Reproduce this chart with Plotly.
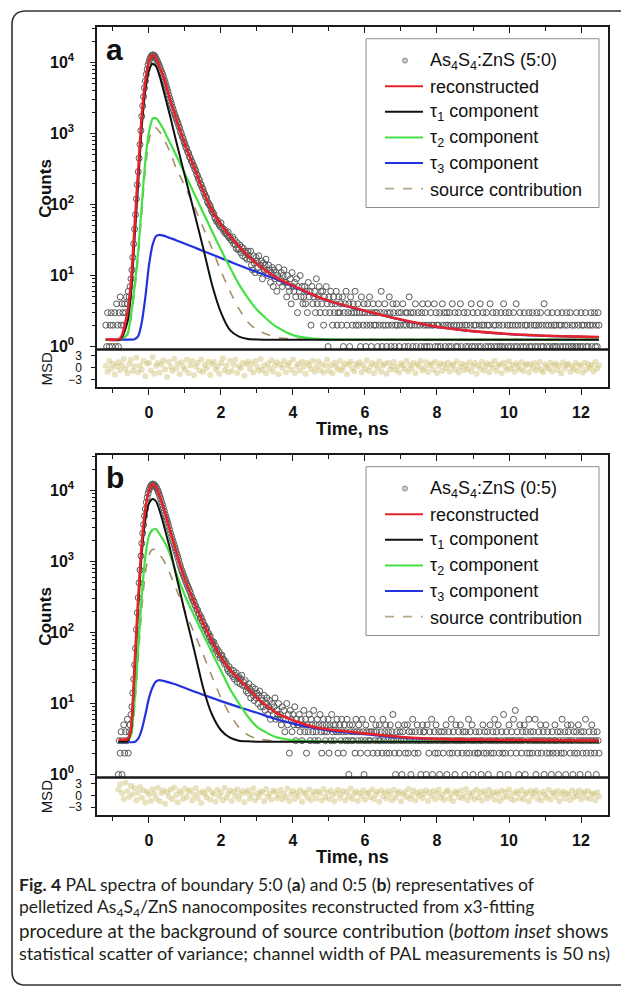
import numpy as np
import plotly.graph_objects as go

W, H = 621, 996
FONT = "Liberation Sans, Arial, sans-serif"

channel_ns = 0.025   # spacing of the count channels
msd_step_ns = 0.05   # spacing of the plotted variance points

# ---- panel a : As4S4:ZnS (5:0) ----
start_a = -1.2
counts_a = [
    2, 1, 3, 0, 1, 2, 3, 1, 2, 0, 3, 1, 4, 2, 1, 3, 5, 2, 4, 3,
    2, 4, 3, 5, 4, 6, 5, 7, 9, 12, 18, 28, 45, 72, 120, 190, 290, 450, 700, 1100,
    1750, 2450, 3300, 4400, 5500, 6800, 8000, 9300, 10400, 11300,
    12000, 12500, 12800, 12750, 12500, 12000, 11300, 10700, 10000, 9300,
    8600, 8000, 7400, 6850, 6300, 5750, 5250, 4750, 4300, 3900,
    3500, 3150, 2850, 2600, 2350, 2150, 1950, 1800, 1650, 1530,
    1420, 1290, 1195, 1070, 1000, 900, 850, 760, 710, 640,
    610, 550, 530, 470, 455, 410, 395, 360, 345, 315,
    300, 268, 255, 230, 222, 196, 190, 172, 165, 148, 140, 128, 125, 110, 104, 99, 96, 86, 80, 77,
    74, 66, 63, 58, 60, 55, 52, 49, 55, 47, 46, 42, 44, 39, 40, 37, 41, 34, 35, 32,
    31, 35, 28, 32, 27, 24, 29, 23, 24, 27, 21, 25, 19, 24, 22, 18, 21, 17, 22, 19,
    17, 22, 14, 12, 19, 15, 11, 18, 16, 13, 19, 11, 14, 16, 9, 15, 12, 14, 17, 11,
    10, 14, 12, 8, 11, 13, 7, 12, 9, 11, 6, 10, 13, 8, 9, 11, 7, 10, 12, 8,
    8, 5, 10, 7, 6, 9, 4, 11, 7, 6, 8, 5, 9, 3, 7, 6, 10, 5, 7, 4,
    5, 7, 4, 6, 3, 8, 5, 6, 2, 7, 4, 5, 6, 3, 9, 4, 5, 7, 3, 6,
    4, 6, 2, 5, 3, 7, 4, 1, 5, 3, 6, 4, 2, 5, 3, 4, 6, 2, 3, 5,
    3, 4, 2, 5, 1, 3, 4, 6, 2, 3, 4, 1, 5, 3, 2, 4, 3, 6, 2, 3,
    4, 2, 3, 1, 5, 3, 2, 4, 3, 1, 2, 4, 3, 5, 2, 1, 3, 4, 2, 3,
    2, 3, 1, 4, 2, 3, 6, 1, 2, 3, 4, 2, 1, 3, 2, 5, 3, 1, 2, 4,
    3, 1, 2, 4, 2, 3, 1, 2, 3, 0, 4, 2, 1, 3, 2, 3, 1, 5, 2, 3,
    2, 1, 3, 2, 4, 1, 2, 3, 0, 2, 1, 3, 4, 2, 1, 3, 2, 1, 4, 2,
    1, 3, 2, 0, 2, 4, 1, 3, 2, 1, 2, 3, 1, 0, 4, 2, 3, 1, 2, 3,
    2, 1, 3, 2, 1, 4, 0, 2, 3, 1, 2, 1, 3, 2, 4, 1, 2, 0, 3, 2,
    1, 2, 3, 1, 0, 2, 4, 1, 3, 2, 1, 2, 0, 3, 1, 2, 4, 1, 2, 3,
    2, 0, 1, 3, 2, 1, 2, 4, 1, 0, 3, 2, 1, 2, 3, 1, 0, 2, 1, 3,
    1, 2, 4, 1, 3, 0, 2, 1, 3, 2, 1, 0, 2, 3, 1, 2, 4, 1, 2, 0,
    3, 1, 2, 0, 1, 3, 2, 1, 2, 0, 3, 1, 2, 1, 3, 0, 2, 1, 2, 3,
    1, 2, 0, 3, 1, 2, 1, 4, 0, 2, 1, 3, 2, 1, 0, 2, 3, 1, 2, 1,
    2, 1, 3, 0, 2, 1, 2, 3, 1, 0, 2, 1, 3, 2, 1, 0, 3, 1, 2, 1,
    0, 2, 1, 3, 1, 2, 0, 1, 3, 2, 1, 2, 0, 3, 1, 2, 1, 0, 2, 3,
    1, 2, 0, 3, 1, 2, 1, 3, 2,
]
msd_a = [
    0.4, -1.1, 1.6, -0.3, 0.9, -1.8, 0.2, 1.3, -0.7, 0.6,
    2.1, -0.4, -1.5, 0.8, 1.9, -0.9, 0.3, 2.4, -1.2, 0.5,
    -0.6, 1.7, -2.2, 0.9, 1.2, -0.8, 2.6, -1.6, 0.4, 1.1,
    -1.3, 0.7, 1.8, -0.5, -2.4, 1.4, 0.2, -0.9, 2.2, -0.3,
    0.9, -1.7, 1.3, 0.1, -0.6, 1.9, -1.4, 0.5, 1.6, -2.0,
    0.3, 1.2, -0.8, 2.0, -1.1, 0.6, -0.2, 1.5, -1.9, 0.8,
    1.4, -0.5, 0.2, -1.6, 1.1, 2.3, -0.7, 0.4, -1.2, 1.7,
    -0.9, 0.6, 1.9, -1.4, 0.3, -0.2, 1.2, -2.1, 0.8, 1.5,
    -0.4, 0.9, -1.3, 1.6, 0.2, -0.8, 2.1, -0.6, 0.5, -1.5,
    1.0, -0.3, 1.8, -1.0, 0.4, 1.3, -1.7, 0.7, -0.1, 1.6,
    -1.2, 0.5, 1.1, -0.6, 2.0, -1.4, 0.3, 0.9, -0.8, 1.4,
    0.2, -1.6, 1.2, 0.6, -0.4, 1.7, -1.1, 0.1, 1.5, -0.7,
    0.8, -1.3, 0.4, 1.9, -0.9, 0.5, -1.5, 1.2, 0.3, -0.5,
    1.6, -0.8, 0.1, 1.0, -1.7, 0.7, 1.4, -0.3, -1.0, 0.9,
    0.3, 1.3, -1.2, 0.6, -0.4, 1.8, -0.9, 0.2, 1.1, -1.5,
    0.7, -0.2, 1.5, -1.1, 0.4, 0.9, -1.6, 1.2, -0.5, 0.3,
    1.4, -0.7, 0.2, -1.3, 1.0, 0.5, -0.4, 1.7, -1.0, 0.6,
    -0.3, 1.1, -1.5, 0.8, 0.2, 1.6, -0.8, -0.1, 1.3, -1.2,
    0.5, 0.9, -0.6, 1.4, -1.4, 0.3, 1.0, -0.9, 0.7, -0.2,
    1.2, -1.1, 0.4, 0.8, -0.5, 1.5, -1.3, 0.1, 0.9, -0.7,
    0.6, -0.4, 1.3, -1.0, 0.2, 1.1, -1.6, 0.5, -0.3, 1.4,
    -0.8, 0.3, 1.0, -1.2, 0.7, -0.1, 1.6, -0.9, 0.4, 0.8,
    -1.4, 1.2, 0.1, -0.6, 1.5, -0.3, 0.6, -1.1, 1.0, 0.2,
    -0.5, 1.3, -0.9, 0.4, 0.9, -1.3, 0.7, -0.2, 1.1, -0.8,
    0.3, 1.4, -0.6, -1.2, 0.8, 0.1, -0.4, 1.2, -1.0, 0.5,
    1.0, -0.7, 0.4, -1.5, 1.3, -0.2, 0.6, 0.9, -1.1, 0.2,
    -0.4, 1.1, -0.9, 0.7, 0.3, -1.3, 1.2, -0.5, 0.8, -0.1,
    0.6, -1.0, 1.4, -0.3, 0.5,
]
curve_t_a = [-1.2, -0.8, -0.6, -0.5, -0.4, -0.3, -0.2, -0.1, 0.0, 0.1, 0.2, 0.3, 0.4,
             0.5, 0.6, 0.75, 1.0, 1.25, 1.5, 1.75, 2.0, 2.25, 2.5, 2.75, 3.0, 3.5,
             4.0, 4.5, 5.0, 6.0, 7.0, 8.0, 9.0, 10.0, 11.0, 12.0, 12.5]
recon_a = [1.26, 1.3, 3.0, 8, 50, 300, 1800, 5500, 10500, 12800, 11300, 8600, 6300,
           4300, 2850, 1650, 700, 340, 160, 82, 52, 36, 26, 19, 14.5, 9.6,
           7.2, 5.5, 4.4, 3.2, 2.4, 1.9, 1.65, 1.5, 1.42, 1.38, 1.36]
tau1_a = [1.25, 1.25, 2.2, 5.5, 33, 200, 1250, 4100, 7800, 9600, 8800, 6300, 4100,
          2600, 1650, 800, 250, 80, 25, 7.5, 3.0, 1.7, 1.38, 1.28, 1.26, 1.25,
          1.25, 1.25, 1.25, 1.25, 1.25, 1.25, 1.25, 1.25, 1.25, 1.25, 1.25]
tau2_a = [1.25, 1.26, 1.5, 2.8, 7, 22, 100, 420, 1050, 1620, 1640, 1400, 1150,
          900, 720, 500, 270, 145, 78, 42, 23, 13, 7.5, 4.8, 3.3, 1.95,
          1.45, 1.3, 1.26, 1.25, 1.25, 1.25, 1.25, 1.25, 1.25, 1.25, 1.25]
tau3_a = [1.25, 1.25, 1.25, 1.25, 1.27, 1.4, 2.2, 5, 14, 27, 36, 37.5, 36.5,
          35, 33.5, 31.5, 28, 25, 22.2, 19.8, 17.6, 15.7, 14, 12.5, 11.2, 9.0,
          7.0, 5.4, 4.35, 3.17, 2.38, 1.89, 1.64, 1.49, 1.41, 1.37, 1.35]
source_a = [1.25, 1.26, 1.45, 2.5, 6, 18, 80, 330, 800, 1180, 1200, 1050, 860,
            680, 530, 330, 180, 95, 48, 24, 11.5, 6, 3.4, 2.2, 1.7, 1.36,
            1.28, 1.26, 1.25, 1.25, 1.25, 1.25, 1.25, 1.25, 1.25, 1.25, 1.25]

# ---- panel b : As4S4:ZnS (0:5) ----
start_b = -0.85
counts_b = [
    1, 3, 2, 4, 1, 3, 5, 2, 4, 3, 6, 2, 4, 5, 7, 9, 14, 22, 35, 60,
    110, 190, 310, 500, 760, 1200, 1800, 2500, 3300, 4400,
    5500, 6800, 8000, 9100, 10100, 10900, 11600, 12000, 12300, 12250,
    12000, 11600, 11100, 10500, 9800, 9100, 8300, 7600, 6900, 6300,
    5700, 5150, 4600, 4200, 3800, 3450, 3100, 2800, 2500, 2270,
    2050, 1870, 1700, 1550, 1400, 1270, 1150, 1040, 930, 850,
    770, 715, 660, 610, 560, 520, 480, 450, 420, 390,
    365, 325, 306, 280, 275, 244, 236, 212, 208, 186, 180, 160, 164, 144, 143, 126, 125, 112, 114, 99,
    98, 86, 89, 77, 76, 70, 73, 60, 64, 55, 58, 49, 53, 44, 47, 48, 41, 42, 36, 39,
    36, 31, 29, 33, 27, 30, 26, 24, 29, 22, 25, 27, 20, 23, 24, 19, 22, 25, 18, 20,
    18, 21, 15, 17, 14, 19, 16, 12, 15, 17, 13, 11, 16, 12, 14, 10, 13, 15, 9, 12,
    11, 9, 13, 8, 10, 12, 7, 9, 11, 6, 8, 10, 7, 9, 12, 6, 8, 7, 10, 6,
    7, 5, 9, 6, 8, 4, 6, 10, 5, 7, 2, 8, 6, 4, 7, 5, 9, 3, 6, 5,
    5, 7, 4, 6, 3, 5, 8, 4, 6, 2, 5, 4, 7, 3, 6, 5, 4, 8, 3, 5,
    4, 6, 3, 5, 7, 4, 2, 5, 6, 4, 3, 5, 4, 6, 2, 5, 3, 7, 4, 5,
    3, 5, 4, 6, 2, 4, 5, 3, 6, 4, 2, 5, 3, 4, 6, 3, 1, 5, 4, 3,
    5, 3, 4, 2, 6, 4, 3, 5, 4, 2, 3, 6, 4, 1, 3, 5, 4, 2, 3, 4,
    3, 4, 6, 2, 4, 3, 5, 4, 2, 3, 5, 3, 4, 2, 6, 3, 4, 5, 2, 3,
    4, 2, 5, 3, 4, 7, 3, 2, 1, 4, 3, 5, 2, 4, 3, 1, 4, 3, 5, 2,
    3, 5, 2, 4, 3, 1, 4, 6, 3, 2, 4, 3, 5, 2, 3, 4, 1, 3, 5, 4,
    4, 3, 1, 5, 3, 2, 4, 3, 6, 1, 3, 4, 2, 5, 3, 2, 4, 1, 3, 4,
    3, 2, 4, 3, 5, 1, 3, 4, 2, 3, 6, 2, 4, 3, 1, 5, 3, 2, 4, 3,
    5, 3, 2, 4, 3, 1, 4, 2, 3, 6, 2, 4, 3, 5, 1, 3, 2, 4, 3, 2,
    2, 4, 3, 1, 3, 5, 2, 4, 3, 2, 4, 1, 3, 5, 2, 3, 4, 2, 6, 3,
    4, 3, 5, 2, 1, 3, 4, 2, 7, 3, 2, 4, 3, 1, 5, 3, 2, 4, 3, 6,
    3, 8, 2, 4, 3, 1, 5, 3, 2, 4, 3, 5, 1, 4, 2, 3, 6, 2, 4, 3,
    2, 4, 3, 6, 1, 3, 2, 4, 3, 5, 2, 3, 4, 1, 3, 5, 2, 4, 3, 2,
    3, 1, 4, 2, 3, 5, 3, 2, 4, 1, 3, 4, 2, 6, 3, 2, 4, 1, 3, 5,
    4, 3, 2, 5, 3, 1, 4, 2, 3, 4, 2, 5, 3, 1, 4, 3, 2, 4, 3, 6,
    2, 3, 1, 4, 3, 2, 5, 3, 4, 2, 3, 1, 4, 3, 2,
]
msd_b = [
    1.5, 2.8, 0.6, -0.9, 3.2, 1.1, -0.4, 2.4, 0.3, 1.8,
    -1.2, 0.7, 2.1, -0.6, 1.3, -1.8, 0.9, 0.2, -1.4, 1.6,
    0.4, -0.8, 1.9, -1.5, 0.6, 1.2, -2.1, 0.8, -0.3, 1.4,
    -1.0, 2.0, 0.1, -1.7, 1.1, 0.5, -0.9, 1.7, -0.4, 0.9,
    1.3, -1.3, 0.2, 1.8, -0.7, 0.6, -1.9, 1.0, 0.4, -0.5,
    1.6, -1.1, 0.8, 0.3, -1.6, 1.4, -0.2, 0.7, -1.2, 1.9,
    -0.6, 0.4, 1.2, -1.4, 0.9, -0.1, 1.5, -1.0, 0.3, 1.1,
    -1.7, 0.6, 1.3, -0.8, 0.2, 1.8, -1.3, 0.5, -0.4, 1.0,
    0.7, -1.5, 1.6, -0.3, 0.4, -1.1, 1.2, 0.9, -0.7, 0.1,
    1.4, -1.0, 0.5, -0.5, 1.7, -1.4, 0.3, 1.1, -0.9, 0.6,
    -0.2, 1.3, -1.6, 0.8, 0.4, -0.6, 1.5, -1.2, 0.2, 0.9,
    -0.8, 1.0, 0.5, -1.3, 1.6, -0.4, 0.7, -1.0, 1.2, 0.1,
    -1.5, 0.6, 1.4, -0.7, 0.3, 1.1, -1.2, 0.8, -0.3, 1.7,
    -0.9, 0.4, 1.0, -1.4, 0.6, -0.2, 1.3, -1.1, 0.5, 0.8,
    -0.5, 1.5, -1.0, 0.2, 0.9, -1.6, 1.2, -0.3, 0.7, -0.8,
    1.1, 0.3, -1.2, 1.4, -0.6, 0.5, 1.0, -1.5, 0.2, 0.8,
    -0.4, 1.6, -0.9, 0.1, 1.2, -1.3, 0.6, -0.1, 1.0, -0.7,
    0.4, 1.3, -1.4, 0.7, -0.2, 1.1, -1.0, 0.5, 1.5, -0.6,
    0.2, -1.1, 0.9, 1.3, -0.8, 0.3, -1.5, 1.0, 0.6, -0.4,
    1.2, -0.7, 0.1, 1.6, -1.2, 0.5, -0.3, 0.8, -1.0, 1.4,
    -0.5, 0.7, -1.3, 1.1, 0.2, -0.8, 1.4, -0.1, 0.6, -1.1,
    0.9, 0.3, -1.4, 1.2, -0.6, 0.8, -0.2, 1.5, -0.9, 0.4,
    -1.2, 1.0, 0.5, -0.7, 1.3, -1.0, 0.2, 0.7, -1.5, 1.1,
    -0.3, 0.6, 1.2, -0.9, 0.4, -1.3, 0.9, 0.1, -0.6, 1.4,
    -1.1, 0.5, 0.8, -0.4, 1.1, -1.4, 0.3, 1.0, -0.8, 0.6,
    0.2, -1.2, 1.3, -0.5, 0.7, -0.1, 1.2, -1.0, 0.4, 0.9,
    -0.6, 1.1, -0.9, 0.5, 0.3, -1.2, 0.8, -0.3,
]
curve_t_b = [-0.85, -0.6, -0.5, -0.4, -0.3, -0.2, -0.1, 0.0, 0.1, 0.2, 0.3, 0.4,
             0.5, 0.6, 0.75, 1.0, 1.25, 1.5, 1.75, 2.0, 2.25, 2.5, 2.75, 3.0, 3.5,
             4.0, 4.5, 5.0, 6.0, 7.0, 8.0, 9.0, 10.0, 11.0, 12.0, 12.5]
recon_b = [3.1, 3.15, 4.5, 35, 300, 1800, 5500, 10000, 12300, 11000, 8300, 5800,
           3900, 2600, 1400, 560, 270, 140, 75, 45, 30, 22, 16.5, 12, 7.6,
           5.8, 4.8, 4.3, 3.8, 3.38, 3.18, 3.1, 3.07, 3.05, 3.03, 3.02]
tau1_b = [2.9, 2.95, 4.2, 28, 220, 1300, 3900, 6600, 7600, 7000, 5100, 3400,
          2200, 1400, 650, 190, 58, 17, 7, 4.2, 3.3, 3.0, 2.93, 2.9, 2.9,
          2.9, 2.9, 2.9, 2.9, 2.9, 2.9, 2.9, 2.9, 2.9, 2.9, 2.9]
tau2_b = [2.9, 2.95, 3.6, 11, 60, 330, 1200, 2300, 2800, 2850, 2400, 2000,
          1600, 1200, 700, 330, 175, 95, 52, 29, 16, 10, 6.5, 4.7, 3.4,
          3.05, 2.95, 2.92, 2.9, 2.9, 2.9, 2.9, 2.9, 2.9, 2.9, 2.9]
tau3_b = [2.85, 2.85, 2.85, 2.87, 3.2, 4.3, 7, 12, 17, 20.5, 21.3, 20.8,
          20.2, 19.5, 18.5, 16.5, 14.8, 13.3, 12, 10.8, 9.8, 8.9, 8.1, 7.4, 6.1,
          5.2, 4.6, 4.15, 3.7, 3.3, 3.14, 3.08, 3.05, 3.03, 3.02, 3.01]
source_b = [2.85, 2.9, 3.5, 9, 45, 220, 700, 1250, 1480, 1460, 1250, 1050,
            850, 640, 420, 200, 100, 50, 24, 12, 7, 4.6, 3.6, 3.2, 2.95,
            2.9, 2.9, 2.9, 2.9, 2.9, 2.9, 2.9, 2.9, 2.9, 2.9, 2.9]

log_ticks = [1, 10, 100, 1000, 10000]
log_labels = ["10<sup>0</sup>", "10<sup>1</sup>", "10<sup>2</sup>", "10<sup>3</sup>", "10<sup>4</sup>"]
msd_ticks = [-3, 0, 3]

caption = [
    "<b>Fig. 4</b> PAL spectra of boundary 5:0 (<b>a</b>) and 0:5 (<b>b</b>) representatives of",
    "pelletized As<sub>4</sub>S<sub>4</sub>/ZnS nanocomposites reconstructed from x3-fitting",
    "procedure at the background of source contribution (<i>bottom inset</i> shows",
    "statistical scatter of variance; channel width of PAL measurements is 50 ns)",
]
caption_sizes = [17.5, 17.5, 18.8, 18.1]


def px(x):
    return x / W


def py(y):
    return 1 - y / H


X0, X1 = 97, 608
x_range = [-1.444, 12.75]
panels = [
    dict(top=26, sample="As<sub>4</sub>S<sub>4</sub>:ZnS (5:0)", letter="a",
         start=start_a, counts=counts_a, msd=msd_a, t=curve_t_a,
         recon=recon_a, tau1=tau1_a, tau2=tau2_a, tau3=tau3_a, source=source_a),
    dict(top=457, sample="As<sub>4</sub>S<sub>4</sub>:ZnS (0:5)", letter="b",
         start=start_b, counts=counts_b, msd=msd_b, t=curve_t_b,
         recon=recon_b, tau1=tau1_b, tau2=tau2_b, tau3=tau3_b, source=source_b),
]
curves = [  # key, legend text, colour, width, dash
    ("source", "source contribution", "#a68f68", 1.6, "dash"),
    ("tau3", "τ<sub>3</sub> component", "#2233dd", 2.2, "solid"),
    ("tau2", "τ<sub>2</sub> component", "#44e044", 2.2, "solid"),
    ("tau1", "τ<sub>1</sub> component", "#111111", 2.0, "solid"),
    ("recon", "reconstructed", "#e3242b", 2.6, "solid"),
]
legend_order = ["recon", "tau1", "tau2", "tau3", "source"]

fig = go.Figure()
layout = dict(
    width=W, height=H, margin=dict(l=0, r=0, t=0, b=0),
    paper_bgcolor="white", plot_bgcolor="white",
    font=dict(family=FONT, color="#111"),
    showlegend=False, annotations=[], shapes=[],
)
ann = layout["annotations"]
shp = layout["shapes"]

ink = "#1a1a1a"
for k, p in enumerate(panels):
    top = p["top"]
    sep = top + 325      # border between counts and MSD
    bot = sep + 38
    n = 2 * k
    xb, xt = f"x{n + 1 if n else ''}", f"x{n + 2}"
    yb, yt = f"y{n + 1 if n else ''}", f"y{n + 2}"
    xb_key, xt_key = "xaxis" + (str(n + 1) if n else ""), f"xaxis{n + 2}"
    yb_key, yt_key = "yaxis" + (str(n + 1) if n else ""), f"yaxis{n + 2}"

    t_data = p["start"] + channel_ns * np.arange(len(p["counts"]))
    t_msd = p["start"] + msd_step_ns * np.arange(len(p["msd"]))

    fig.add_trace(go.Scatter(
        x=t_data, y=p["counts"], mode="markers", name=p["sample"],
        marker=dict(symbol="circle-open", size=6, color="#585858", line=dict(width=1)),
        xaxis=xt, yaxis=yt))
    style = {}
    for key, name, col, wd, dash in curves:
        style[key] = (name, col, wd, dash)
        fig.add_trace(go.Scatter(
            x=p["t"], y=p[key], mode="lines", name=name,
            line=dict(color=col, width=wd, dash=dash, shape="spline", smoothing=0.6),
            xaxis=xt, yaxis=yt))
    fig.add_trace(go.Scatter(
        x=t_msd, y=p["msd"], mode="markers", name="MSD",
        marker=dict(size=6, color="rgba(204,190,112,0.45)", line=dict(width=0)),
        xaxis=xb, yaxis=yb))

    common_x = dict(domain=[px(X0), px(X1)], range=x_range, showgrid=False, zeroline=False,
                    showline=True, linecolor=ink, linewidth=1.5, tick0=0, dtick=2,
                    tickcolor=ink, tickwidth=1.3)
    layout[xb_key] = dict(common_x, anchor=yb, ticks="outside", ticklen=6,
                          minor=dict(dtick=1, ticks="outside", ticklen=4, tickcolor=ink),
                          tickfont=dict(family=FONT, size=16, color="#111", weight="bold"),
                          ticklabelstandoff=4)
    layout[xt_key] = dict(common_x, anchor=yt, side="top", ticks="inside", ticklen=6,
                          minor=dict(dtick=1, ticks="inside", ticklen=4, tickcolor=ink),
                          showticklabels=False)
    layout[yt_key] = dict(domain=[py(sep), py(top)], anchor=xt, type="log",
                          range=[-0.042, 4.503], tickvals=log_ticks, ticktext=log_labels,
                          ticks="outside", ticklen=5, tickcolor=ink, tickwidth=1.3,
                          minor=dict(dtick="D1", ticks="outside", ticklen=3, tickcolor=ink),
                          tickfont=dict(family=FONT, size=16, color="#111", weight="bold"),
                          ticklabelstandoff=13,
                          showline=True, mirror=True, linecolor=ink, linewidth=1.5,
                          showgrid=False, zeroline=False)
    layout[yb_key] = dict(domain=[py(bot), py(sep)], anchor=xb, range=[-5, 4.5],
                          tickvals=msd_ticks, ticks="outside", ticklen=4, tickcolor=ink,
                          tickfont=dict(family=FONT, size=12, color="#111"),
                          ticklabelstandoff=7,
                          showline=True, mirror=True, linecolor=ink, linewidth=1.5,
                          showgrid=False, zeroline=False)

    # separator between the count panel and the MSD strip
    shp.append(dict(type="line", xref="paper", yref="paper",
                    x0=px(X0), x1=px(X1), y0=py(sep), y1=py(sep),
                    line=dict(color=ink, width=2.5)))

    # legend box drawn by hand so the sample lines match the original
    shp.append(dict(type="rect", xref="paper", yref="paper",
                    x0=px(366), x1=px(599), y0=py(top + 12), y1=py(top + 182),
                    line=dict(color="#8c8c8c", width=1), fillcolor="white"))
    rows = [p["sample"]] + [style[key][0] for key in legend_order]
    for i, label in enumerate(rows):
        yc = top + 34 + 25.8 * i
        if i == 0:
            shp.append(dict(type="circle", xref="paper", yref="paper",
                            xsizemode="pixel", ysizemode="pixel",
                            xanchor=px(405), yanchor=py(yc), x0=-2.5, x1=2.5, y0=-2.5, y1=2.5,
                            line=dict(color="#8a8a8a", width=1), fillcolor="#cfcfcf"))
        else:
            _, col, wd, dash = style[legend_order[i - 1]]
            shp.append(dict(type="line", xref="paper", yref="paper",
                            x0=px(385), x1=px(423), y0=py(yc), y1=py(yc),
                            line=dict(color=col if dash == "solid" else "#b5a88c",
                                      width=min(wd, 2.0), dash=dash)))
        ann.append(dict(text=label, x=px(428), y=py(yc + 1), xref="paper", yref="paper",
                        xanchor="left", yanchor="middle", showarrow=False,
                        font=dict(family=FONT, size=18, color="#111")))

    ann.append(dict(text=f"<b>{p['letter']}</b>", x=px(104), y=py(top + 23), xref="paper",
                    yref="paper", xanchor="left", yanchor="middle", showarrow=False,
                    font=dict(family=FONT, size=30, color="#111")))
    ann.append(dict(text="<b>Counts</b>", x=px(46), y=py(top + 163), xref="paper",
                    yref="paper", xanchor="center", yanchor="middle", textangle=-90,
                    showarrow=False, font=dict(family=FONT, size=17, color="#111")))
    ann.append(dict(text="MSD", x=px(46), y=py(sep + 19), xref="paper", yref="paper",
                    xanchor="center", yanchor="middle", textangle=-90, showarrow=False,
                    font=dict(family=FONT, size=15, color="#111")))
    ann.append(dict(text="<b>Time, ns</b>", x=px((X0 + X1) / 2), y=py(bot + 42), xref="paper",
                    yref="paper", xanchor="center", yanchor="middle", showarrow=False,
                    font=dict(family=FONT, size=18, color="#111")))

for i, line in enumerate(caption):
    ann.append(dict(
        text=line, x=px(17), y=py(890 + 23 * i), xref="paper", yref="paper",
        xanchor="left", yanchor="middle", showarrow=False, align="left",
        font=dict(family="Lato, sans-serif", size=caption_sizes[i], color="#231f20")))

# rounded frame around the figure (right side runs off the page)
r = 14
L, T, B, R = 12, 10, 991, 660
frame = (f"M {px(R)},{py(T)} L {px(L + r)},{py(T)} Q {px(L)},{py(T)} {px(L)},{py(T + r)} "
         f"L {px(L)},{py(B - r)} Q {px(L)},{py(B)} {px(L + r)},{py(B)} L {px(R)},{py(B)}")
shp.append(dict(type="path", path=frame, xref="paper", yref="paper",
                line=dict(color="#333", width=1.6)))

fig.update_layout(**layout)
fig.write_html("out.html", config={"displayModeBar": False},
               post_script="document.body.style.margin = '0px';")
